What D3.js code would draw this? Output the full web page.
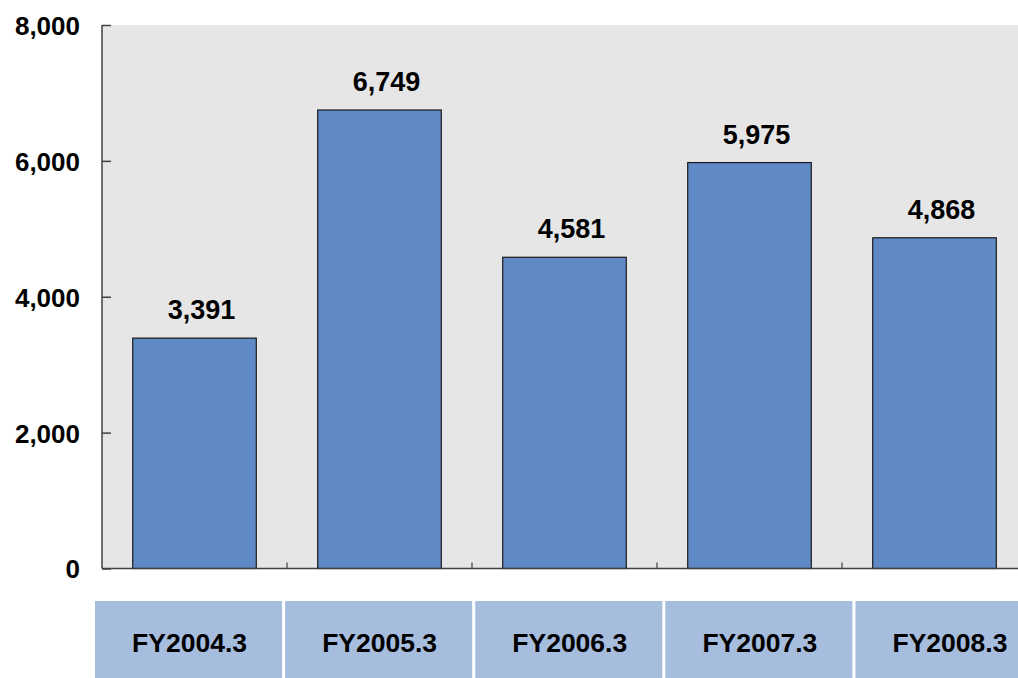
<!DOCTYPE html>
<html><head><meta charset="utf-8">
<script src="https://cdn.jsdelivr.net/npm/d3@7"></script>
<style>
html,body{margin:0;padding:0;background:#fff;overflow:hidden;}
text{font-family:"Liberation Sans",Arial,sans-serif;font-weight:bold;fill:#000;}
</style></head>
<body>
<svg id="chart" width="1018" height="678"></svg>
<script>
const categories = ["FY2004.3","FY2005.3","FY2006.3","FY2007.3","FY2008.3"];
const values = [3391, 6749, 4581, 5975, 4868];
const yTicks = [0, 2000, 4000, 6000, 8000];

(function () {
const svg = d3.select("#chart");
const W = 1018, H = 678;
const pLeft = 102, pTop = 25, pBottom = 568.5, pRight = 1027;

const x = d3.scaleBand().domain(categories).range([pLeft, pRight]).paddingInner(0.332).paddingOuter(0.166);
const y = d3.scaleLinear().domain([0, 8000]).range([pBottom, pTop]);
const fmt = d3.format(",");

// plot background
svg.append("rect").attr("x", pLeft).attr("y", pTop).attr("width", W - pLeft).attr("height", pBottom - pTop).attr("fill", "#E6E6E6");

// bars
svg.selectAll("rect.bar").data(values).join("rect").attr("class", "bar")
  .attr("x", (d, i) => x(categories[i]))
  .attr("y", d => y(d))
  .attr("width", x.bandwidth())
  .attr("height", d => y(0) - y(d))
  .attr("fill", "#5F8AC5")
  .attr("stroke", "#1a1a1a").attr("stroke-width", 1.2);

// data labels
svg.selectAll("text.lbl").data(values).join("text").attr("class", "lbl")
  .attr("x", (d, i) => x(categories[i]) + x.bandwidth() / 2 + 7)
  .attr("y", d => y(d) - 19)
  .attr("text-anchor", "middle")
  .attr("font-size", 27)
  .text(d => fmt(d));

// y axis
const yAxis = d3.axisLeft(y).tickValues(yTicks).tickSize(-9).tickPadding(22).tickFormat(fmt);
const gy = svg.append("g").attr("transform", `translate(${pLeft},0)`).call(yAxis);
gy.select(".domain").attr("stroke", "#404040").attr("stroke-width", 1.5).attr("d", `M0,${pTop}V${pBottom}`);
gy.selectAll(".tick line").attr("stroke", "#404040").attr("stroke-width", 1.5);
gy.selectAll(".tick text").attr("font-size", 26).attr("font-family", "Liberation Sans, Arial, sans-serif").attr("font-weight", "bold").attr("fill", "#000").attr("dy", "0.36em");

// x axis line and between-category ticks
svg.append("line").attr("x1", pLeft).attr("x2", W).attr("y1", pBottom).attr("y2", pBottom).attr("stroke", "#404040").attr("stroke-width", 1.5);
svg.selectAll("line.xt").data(categories.slice(1)).join("line").attr("class", "xt")
  .attr("x1", d => x(d) - x.step() * x.paddingInner() / 2)
  .attr("x2", d => x(d) - x.step() * x.paddingInner() / 2)
  .attr("y1", pBottom).attr("y2", pBottom - 6)
  .attr("stroke", "#404040").attr("stroke-width", 1.2);

// category boxes beneath
const xb = d3.scaleBand().domain(categories).range([95, 1042.5]).paddingInner(0.016).paddingOuter(0);
svg.selectAll("rect.box").data(categories).join("rect").attr("class", "box")
  .attr("x", d => xb(d)).attr("y", 601).attr("width", xb.bandwidth()).attr("height", 80)
  .attr("fill", "#A6BDDE");
svg.selectAll("text.cat").data(categories).join("text").attr("class", "cat")
  .attr("x", d => xb(d) + xb.bandwidth() / 2 + 1)
  .attr("y", 652)
  .attr("text-anchor", "middle")
  .attr("font-size", 26.5)
  .text(d => d);
})();
</script>
</body></html>
